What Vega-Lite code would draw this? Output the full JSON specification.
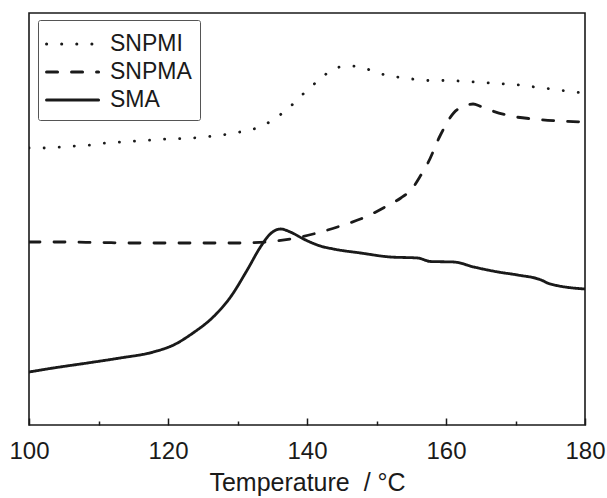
{
  "$schema": "https://vega.github.io/schema/vega-lite/v6.json",
  "width": 556,
  "height": 412,
  "autosize": "none",
  "padding": {"left": 29, "top": 13, "right": 22, "bottom": 73},
  "background": "white",
  "config": {
    "view": {"stroke": "#1a1a1a", "strokeWidth": 1.6},
    "font": "Liberation Sans"
  },
  "data": {
    "values": [
      {"s": "SNPMI", "T": 100, "v": 275}, {"s": "SNPMI", "T": 102.3, "v": 275}, {"s": "SNPMI", "T": 104.5, "v": 276},
      {"s": "SNPMI", "T": 106.6, "v": 277}, {"s": "SNPMI", "T": 108.8, "v": 278}, {"s": "SNPMI", "T": 111.1, "v": 280},
      {"s": "SNPMI", "T": 113.3, "v": 281}, {"s": "SNPMI", "T": 115.6, "v": 282}, {"s": "SNPMI", "T": 117.7, "v": 283},
      {"s": "SNPMI", "T": 119.9, "v": 284}, {"s": "SNPMI", "T": 122.1, "v": 284.5}, {"s": "SNPMI", "T": 124.4, "v": 285.5},
      {"s": "SNPMI", "T": 126.5, "v": 287}, {"s": "SNPMI", "T": 128.7, "v": 289}, {"s": "SNPMI", "T": 131.0, "v": 292},
      {"s": "SNPMI", "T": 133.2, "v": 296}, {"s": "SNPMI", "T": 135.3, "v": 304}, {"s": "SNPMI", "T": 137.5, "v": 316},
      {"s": "SNPMI", "T": 139.6, "v": 330}, {"s": "SNPMI", "T": 141.9, "v": 344}, {"s": "SNPMI", "T": 144.1, "v": 355},
      {"s": "SNPMI", "T": 146.4, "v": 357}, {"s": "SNPMI", "T": 148.6, "v": 354}, {"s": "SNPMI", "T": 150.7, "v": 349},
      {"s": "SNPMI", "T": 153.0, "v": 346}, {"s": "SNPMI", "T": 155.2, "v": 344}, {"s": "SNPMI", "T": 157.4, "v": 342.5},
      {"s": "SNPMI", "T": 159.7, "v": 342.5}, {"s": "SNPMI", "T": 161.8, "v": 342}, {"s": "SNPMI", "T": 164.0, "v": 341},
      {"s": "SNPMI", "T": 166.3, "v": 340}, {"s": "SNPMI", "T": 168.5, "v": 339}, {"s": "SNPMI", "T": 170.6, "v": 338},
      {"s": "SNPMI", "T": 172.8, "v": 336}, {"s": "SNPMI", "T": 175.1, "v": 334}, {"s": "SNPMI", "T": 177.3, "v": 332},
      {"s": "SNPMI", "T": 180, "v": 330},
      {"s": "SNPMA", "T": 100, "v": 181}, {"s": "SNPMA", "T": 105, "v": 181}, {"s": "SNPMA", "T": 110, "v": 180.5},
      {"s": "SNPMA", "T": 115, "v": 180}, {"s": "SNPMA", "T": 120, "v": 180}, {"s": "SNPMA", "T": 125.7, "v": 180},
      {"s": "SNPMA", "T": 130.1, "v": 180}, {"s": "SNPMA", "T": 134.0, "v": 181}, {"s": "SNPMA", "T": 137.6, "v": 184},
      {"s": "SNPMA", "T": 140.9, "v": 189}, {"s": "SNPMA", "T": 144.8, "v": 197}, {"s": "SNPMA", "T": 148.4, "v": 206},
      {"s": "SNPMA", "T": 152.0, "v": 219}, {"s": "SNPMA", "T": 153.5, "v": 225}, {"s": "SNPMA", "T": 155.2, "v": 235},
      {"s": "SNPMA", "T": 156.4, "v": 248}, {"s": "SNPMA", "T": 157.4, "v": 260}, {"s": "SNPMA", "T": 159.2, "v": 288},
      {"s": "SNPMA", "T": 161.1, "v": 310}, {"s": "SNPMA", "T": 162.6, "v": 317}, {"s": "SNPMA", "T": 163.9, "v": 319},
      {"s": "SNPMA", "T": 165.0, "v": 316.5}, {"s": "SNPMA", "T": 166.3, "v": 313}, {"s": "SNPMA", "T": 169.3, "v": 307},
      {"s": "SNPMA", "T": 172.6, "v": 304}, {"s": "SNPMA", "T": 176.5, "v": 302}, {"s": "SNPMA", "T": 180, "v": 301},
      {"s": "SMA", "T": 100, "v": 51}, {"s": "SMA", "T": 103.5, "v": 55}, {"s": "SMA", "T": 108.4, "v": 60},
      {"s": "SMA", "T": 113.1, "v": 65}, {"s": "SMA", "T": 117.9, "v": 71}, {"s": "SMA", "T": 120.8, "v": 78},
      {"s": "SMA", "T": 123.6, "v": 90}, {"s": "SMA", "T": 126.5, "v": 106}, {"s": "SMA", "T": 129.0, "v": 126},
      {"s": "SMA", "T": 131.4, "v": 153}, {"s": "SMA", "T": 133.3, "v": 176}, {"s": "SMA", "T": 134.7, "v": 189},
      {"s": "SMA", "T": 136.2, "v": 194}, {"s": "SMA", "T": 137.6, "v": 191}, {"s": "SMA", "T": 139.5, "v": 184},
      {"s": "SMA", "T": 141.9, "v": 177}, {"s": "SMA", "T": 143.8, "v": 174}, {"s": "SMA", "T": 147.7, "v": 170},
      {"s": "SMA", "T": 152.0, "v": 166}, {"s": "SMA", "T": 155.9, "v": 165}, {"s": "SMA", "T": 157.8, "v": 161.5},
      {"s": "SMA", "T": 161.1, "v": 161}, {"s": "SMA", "T": 164.0, "v": 156}, {"s": "SMA", "T": 167.5, "v": 151},
      {"s": "SMA", "T": 170.3, "v": 148}, {"s": "SMA", "T": 173.7, "v": 143}, {"s": "SMA", "T": 174.8, "v": 139.5},
      {"s": "SMA", "T": 180, "v": 134}
    ]
  },
  "resolve": {"axis": {"x": "independent"}},
  "layer": [
    {
      "mark": {"type": "line", "interpolate": "monotone", "color": "#1a1a1a", "strokeWidth": 2.8, "strokeCap": "round", "clip": true},
      "encoding": {
        "x": {
          "field": "T", "type": "quantitative",
          "scale": {"domain": [100, 180], "nice": false, "zero": false},
          "axis": {
            "orient": "bottom",
            "values": [100, 120, 140, 160, 180],
            "grid": false, "domain": false,
            "tickSize": -7, "tickColor": "#1a1a1a", "tickWidth": 1.5,
            "labelFontSize": 24, "labelColor": "#1a1a1a", "labelPadding": 21, "labelFlush": false,
            "labelFont": "Liberation Sans",
            "title": "Temperature\u00a0\u00a0/\u00a0°C", "titleFontSize": 25, "titleFontWeight": "normal",
            "titleColor": "#1a1a1a", "titlePadding": 7, "titleFont": "Liberation Sans"
          }
        },
        "y": {
          "field": "v", "type": "quantitative",
          "scale": {"domain": [-2, 410], "nice": false, "zero": false},
          "axis": null
        },
        "strokeDash": {
          "field": "s", "type": "nominal",
          "scale": {"domain": ["SNPMI", "SNPMA", "SMA"], "range": [[0.1, 15], [11, 14], [1, 0]]},
          "legend": {
            "title": null, "orient": "none", "legendX": 9, "legendY": 7,
            "strokeColor": "#555", "fillColor": "white", "padding": 8, "cornerRadius": 2,
            "symbolType": "M-1.07,0H2.53", "symbolSize": 835, "symbolStrokeWidth": 3, "symbolStrokeColor": "#1a1a1a",
            "symbolFillColor": "transparent",
            "labelFontSize": 23, "labelFont": "Liberation Sans", "labelColor": "#1a1a1a", "labelOffset": 32,
            "rowPadding": 0,
            "encode": {"symbols": {"update": {"strokeCap": {"value": "round"}}}}
          }
        }
      }
    },
    {
      "mark": {"type": "line", "opacity": 0},
      "encoding": {
        "x": {
          "field": "T", "type": "quantitative",
          "axis": {
            "orient": "bottom",
            "values": [110, 130, 150, 170],
            "grid": false, "domain": false, "labels": false, "title": null,
            "tickSize": -4, "tickColor": "#1a1a1a", "tickWidth": 1.5
          }
        },
        "y": {"field": "v", "type": "quantitative"}
      }
    }
  ]
}
